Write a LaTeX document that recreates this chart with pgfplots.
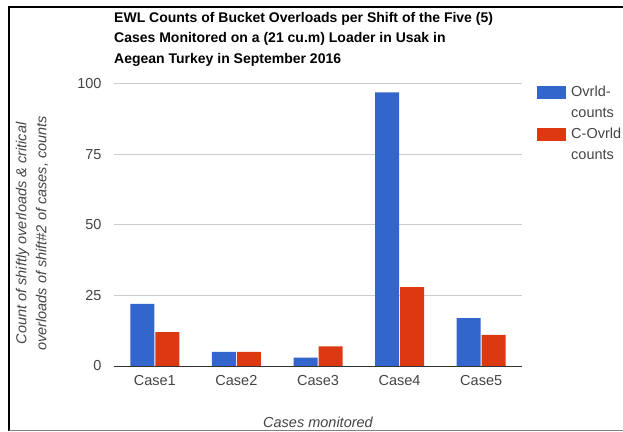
\documentclass[border=0pt]{standalone}
\usepackage{pgfplots}
\pgfplotsset{compat=1.18}
\usepackage{fontspec}
\setmainfont{Liberation Sans}
\definecolor{gblue}{HTML}{3366CC}
\definecolor{gred}{HTML}{DC3912}
\definecolor{ggrid}{HTML}{CCCCCC}
\definecolor{gtext}{HTML}{444444}
\definecolor{gbase}{HTML}{333333}
\begin{document}
\begin{tikzpicture}[x=1pt,y=1pt]
	\path[use as bounding box] (0,0) rectangle (623,431);
	% frame of the screenshot
	\draw[black, line width=2pt] (9,0) -- (9,424) -- (623,424);
	\draw[gray, line width=1pt] (9,0.5) -- (623,0.5);
	% title
	\node[anchor=north west, align=left, inner sep=0pt, font=\fontsize{14}{20.5}\selectfont\bfseries]
		at (114,419) {EWL Counts of Bucket Overloads per Shift of the Five (5)\\
		Cases Monitored on a (21 cu.m) Loader in Usak in\\
		Aegean Turkey in September 2016};
	\begin{axis}[
		at={(114pt,65pt)}, anchor=south west,
		scale only axis,
		width=408pt, height=282pt,
		xmin=-0.5, xmax=4.5,
		ymin=0, ymax=100,
		ybar=1pt, bar width=24pt,
		axis line style={draw=none},
		major tick length=0pt,
		ytick={0,25,50,75,100},
		xtick={0,1,2,3,4},
		xticklabels={Case1,Case2,Case3,Case4,Case5},
		ymajorgrids,
		grid style={ggrid, line width=1pt},
		ticklabel style={font=\fontsize{14.5}{17}\selectfont, text=gtext},
		yticklabel style={anchor=east, xshift=-9pt},
		xticklabel style={anchor=north, yshift=-6pt},
		/pgf/number format/assume math mode=true,
		xlabel={Cases monitored},
		xlabel style={font=\fontsize{14.5}{17}\selectfont\itshape, text=gtext,
			at={(axis description cs:0.5,-0.2)}, anchor=center},
		ylabel={Count of shiftly overloads \& critical\\overloads of shift\#2 of cases, counts},
		ylabel style={font=\fontsize{14.5}{20}\selectfont\itshape, text=gtext, align=center,
			at={(axis description cs:-0.201,0.47)}, anchor=center},
		]
		\addplot[fill=gblue, draw=none] coordinates {(0,22) (1,5) (2,3) (3,97) (4,17)};
		\addplot[fill=gred, draw=none] coordinates {(0,12) (1,5) (2,7) (3,28) (4,11)};
		\draw[gbase, line width=1pt] (axis cs:-0.5,0) -- (axis cs:4.5,0);
	\end{axis}
	% legend
	\fill[gblue] (537,332) rectangle (566,345);
	\fill[gred] (537,290) rectangle (566,303);
	\node[anchor=base west, inner sep=0pt, text=gtext, font=\fontsize{14.5}{21}\selectfont]
		at (571,334) {Ovrld-};
	\node[anchor=base west, inner sep=0pt, text=gtext, font=\fontsize{14.5}{21}\selectfont]
		at (571,313) {counts};
	\node[anchor=base west, inner sep=0pt, text=gtext, font=\fontsize{14.5}{21}\selectfont]
		at (571,292) {C-Ovrld};
	\node[anchor=base west, inner sep=0pt, text=gtext, font=\fontsize{14.5}{21}\selectfont]
		at (571,271) {counts};
\end{tikzpicture}
\end{document}
